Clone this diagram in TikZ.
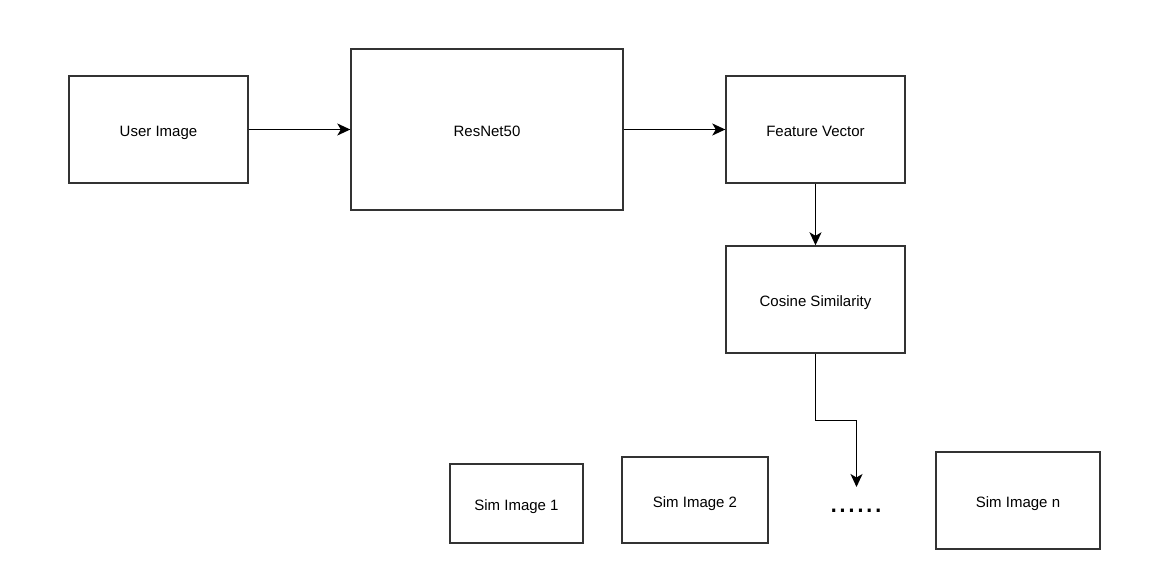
\documentclass[tikz,border=0pt]{standalone}
\usepackage{fontspec}
\setmainfont{Liberation Sans}
\usetikzlibrary{arrows.meta}
\begin{document}
\begin{tikzpicture}[x=1pt,y=-1pt,
  box/.style={draw=black!80, line width=1.4pt, fill=white, inner sep=0pt, text height=17pt, text depth=3pt, font=\fontsize{15}{18}\selectfont},
  conn/.style={draw=black, line width=1.4pt, -{Stealth[length=13pt,width=12pt,inset=3.5pt]}}]
\useasboundingbox (0,0) rectangle (1151,588);
\node[box, minimum width=179pt, minimum height=107pt] (user) at (158.5,129.5) {User Image};
\node[box, minimum width=272pt, minimum height=161pt] (resnet) at (487,129.5) {ResNet50};
\node[box, minimum width=179pt, minimum height=107pt] (fv) at (815.5,129.5) {Feature Vector};
\node[box, minimum width=179pt, minimum height=107pt] (cos) at (815.5,299.5) {Cosine Similarity};
\node[box, minimum width=133pt, minimum height=79pt] (s1) at (516.5,503.5) {Sim Image 1};
\node[box, minimum width=146pt, minimum height=86pt] (s2) at (695,500) {Sim Image 2};
\node[box, minimum width=164pt, minimum height=97pt] (sn) at (1018,500.5) {Sim Image n};
\node[font=\fontsize{32}{32}\selectfont, inner sep=0pt, anchor=base] (dots) at (856,512) {......};
\coordinate (tip) at (856.5,487);
\coordinate (bend) at (856.5,420.5);
\draw[conn] (user.east) -- (resnet.west |- user.east);
\draw[conn] (resnet.east |- fv.west) -- (fv.west);
\draw[conn] (fv.south) -- (cos.north);
\draw[conn] (cos.south) |- (bend) -- (tip);
\end{tikzpicture}
\end{document}
